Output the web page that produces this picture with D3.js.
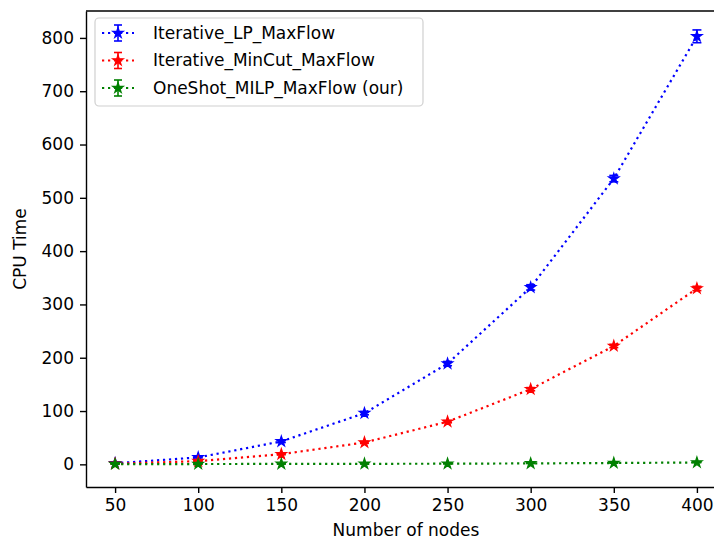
<!DOCTYPE html>
<html>
<head>
<meta charset="utf-8">
<script src="https://cdn.jsdelivr.net/npm/d3@7"></script>
<style>
  html, body { margin: 0; padding: 0; background: #fff; }
  svg { display: block; font-family: "DejaVu Sans", sans-serif; }
</style>
</head>
<body>
<div id="chart"></div>
<script>
// number of nodes on the x axis
const nodes = [50, 100, 150, 200, 250, 300, 350, 400];

// CPU time per method
const lpTime = [2, 13, 43, 96, 189, 332, 536, 803];
const lpErr = [0.5, 1, 2, 3, 4, 5, 6, 12];
const minCutTime = [1, 6, 19, 41, 80, 141, 222, 330];
const minCutErr = [0.3, 0.5, 1, 1.5, 2, 3, 3, 4];
const oneShotTime = [0.5, 0.6, 0.8, 1, 1.2, 1.8, 2.5, 3.5];
const oneShotErr = [0.1, 0.1, 0.1, 0.2, 0.2, 0.3, 0.3, 0.4];

const seriesNames = ['Iterative_LP_MaxFlow', 'Iterative_MinCut_MaxFlow', 'OneShot_MILP_MaxFlow (our)'];
const seriesColors = ['#0000ff', '#ff0000', '#008000'];

const xTicks = [50, 100, 150, 200, 250, 300, 350, 400];
const yTicks = [0, 100, 200, 300, 400, 500, 600, 700, 800];

const series = [
  { name: seriesNames[0], color: seriesColors[0], y: lpTime, err: lpErr },
  { name: seriesNames[1], color: seriesColors[1], y: minCutTime, err: minCutErr },
  { name: seriesNames[2], color: seriesColors[2], y: oneShotTime, err: oneShotErr }
];

const width = 714, height = 539;
const fontSize = 17;

const svg = d3.select('#chart').append('svg')
  .attr('width', width)
  .attr('height', height);

// matplotlib-like 5% margins; the right side runs past the crop
const x = d3.scaleLinear().domain([32.5, 417.5]).range([86, 726]);
const y = d3.scaleLinear().domain([-42.5, 850.5]).range([487, 11]);

const starSize = 34;
const star = d3.symbol().type(d3.symbolStar).size(starSize);

// data
series.forEach(s => {
  const g = svg.append('g');
  const pts = nodes.map((n, i) => ({ x: n, y: s.y[i], e: s.err[i] }));

  // error bars
  const eb = g.selectAll('.eb').data(pts).enter().append('g')
    .attr('stroke', s.color).attr('stroke-width', 1.6);
  eb.append('line')
    .attr('x1', d => x(d.x)).attr('x2', d => x(d.x))
    .attr('y1', d => y(d.y - d.e)).attr('y2', d => y(d.y + d.e));
  eb.append('line')
    .attr('x1', d => x(d.x) - 4.5).attr('x2', d => x(d.x) + 4.5)
    .attr('y1', d => y(d.y - d.e)).attr('y2', d => y(d.y - d.e));
  eb.append('line')
    .attr('x1', d => x(d.x) - 4.5).attr('x2', d => x(d.x) + 4.5)
    .attr('y1', d => y(d.y + d.e)).attr('y2', d => y(d.y + d.e));

  g.append('path')
    .datum(pts)
    .attr('fill', 'none')
    .attr('stroke', s.color)
    .attr('stroke-width', 2.2)
    .attr('stroke-dasharray', '2.2 3.8')
    .attr('d', d3.line().x(d => x(d.x)).y(d => y(d.y)));

  g.selectAll('.mk').data(pts).enter().append('path')
    .attr('d', star)
    .attr('transform', d => `translate(${x(d.x)},${y(d.y)})`)
    .attr('fill', s.color)
    .attr('stroke', s.color)
    .attr('stroke-width', 1.2)
    .attr('stroke-linejoin', 'miter');
});

// axes
const xAxis = svg.append('g')
  .attr('transform', 'translate(0,487)')
  .call(d3.axisBottom(x).tickValues(xTicks).tickSize(6).tickPadding(6).tickSizeOuter(0));
const yAxis = svg.append('g')
  .attr('transform', 'translate(86,0)')
  .call(d3.axisLeft(y).tickValues(yTicks).tickSize(6).tickPadding(6).tickSizeOuter(0));

[xAxis, yAxis].forEach(a => {
  a.select('.domain').attr('stroke', '#000').attr('stroke-width', 1.4);
  a.selectAll('.tick line').attr('stroke', '#000').attr('stroke-width', 1.4);
  a.selectAll('.tick text')
    .attr('fill', '#000')
    .style('font-size', fontSize + 'px')
    .style('font-family', '"DejaVu Sans", sans-serif');
});

// top spine
svg.append('line')
  .attr('x1', 86).attr('x2', 726).attr('y1', 11).attr('y2', 11)
  .attr('stroke', '#000').attr('stroke-width', 1.4);

// axis labels
svg.append('text')
  .attr('x', 406).attr('y', 536)
  .attr('text-anchor', 'middle')
  .style('font-size', fontSize + 'px')
  .text('Number of nodes');

svg.append('text')
  .attr('transform', 'translate(26,249) rotate(-90)')
  .attr('text-anchor', 'middle')
  .style('font-size', fontSize + 'px')
  .text('CPU Time');

// legend
const legend = svg.append('g');
legend.append('rect')
  .attr('x', 95).attr('y', 18).attr('width', 328).attr('height', 88)
  .attr('rx', 4)
  .attr('fill', '#fff').attr('fill-opacity', 0.8)
  .attr('stroke', '#d0d0d0').attr('stroke-width', 1.2);

series.forEach((s, i) => {
  const cy = 33 + i * 27.5;
  const lg = legend.append('g').attr('stroke', s.color);
  lg.append('line')
    .attr('x1', 102).attr('x2', 134).attr('y1', cy).attr('y2', cy)
    .attr('stroke-width', 2.2).attr('stroke-dasharray', '2.2 3.8');
  lg.append('line')
    .attr('x1', 118).attr('x2', 118).attr('y1', cy - 8).attr('y2', cy + 8)
    .attr('stroke-width', 1.6);
  lg.append('line')
    .attr('x1', 114).attr('x2', 122).attr('y1', cy - 8).attr('y2', cy - 8)
    .attr('stroke-width', 1.6);
  lg.append('line')
    .attr('x1', 114).attr('x2', 122).attr('y1', cy + 8).attr('y2', cy + 8)
    .attr('stroke-width', 1.6);
  lg.append('path')
    .attr('d', star)
    .attr('transform', `translate(118,${cy})`)
    .attr('fill', s.color).attr('stroke-width', 1.2);
  legend.append('text')
    .attr('x', 153).attr('y', cy)
    .attr('dy', '0.35em')
    .style('font-size', fontSize + 'px')
    .attr('fill', '#000')
    .text(s.name);
});
</script>
</body>
</html>
